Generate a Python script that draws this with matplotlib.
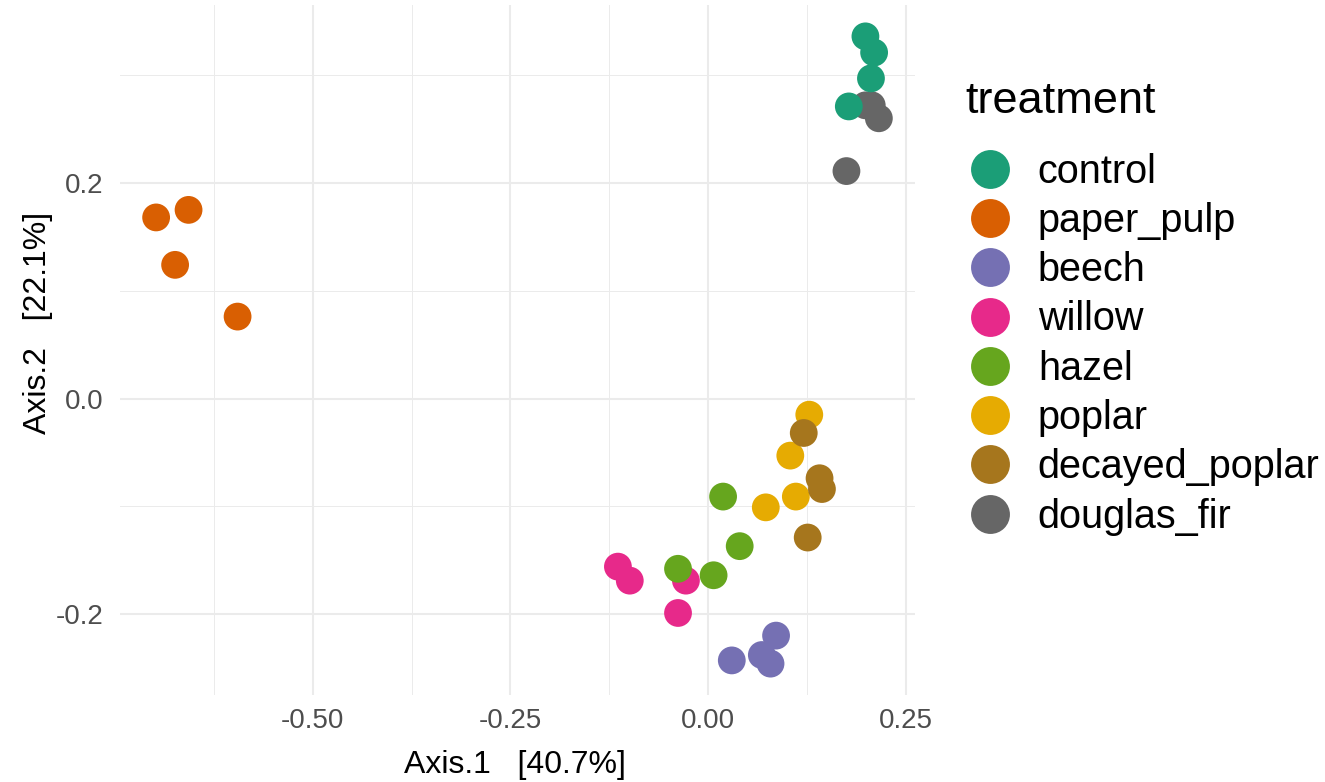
#!/usr/bin/env python3
"""
PCoA ordination plot of samples coloured by treatment.
"""

import matplotlib
matplotlib.use('Agg')
import matplotlib.pyplot as plt
from matplotlib.lines import Line2D
from matplotlib.ticker import MultipleLocator


# Treatments in legend order with Dark2 colours
TREATMENTS = ['control', 'paper_pulp', 'beech', 'willow', 'hazel',
              'poplar', 'decayed_poplar', 'douglas_fir']
COLORS = ['#1B9E77', '#D95F02', '#7570B3', '#E7298A', '#66A61E',
          '#E6AB02', '#A6761D', '#666666']

# Sample coordinates on the first two axes
AXIS1 = {
    'control': [0.199, 0.210, 0.206, 0.178],
    'paper_pulp': [-0.698, -0.657, -0.674, -0.595],
    'beech': [0.086, 0.030, 0.068, 0.079],
    'willow': [-0.114, -0.099, -0.028, -0.038],
    'hazel': [0.019, 0.040, 0.007, -0.038],
    'poplar': [0.128, 0.104, 0.073, 0.111],
    'decayed_poplar': [0.121, 0.141, 0.144, 0.126],
    'douglas_fir': [0.199, 0.207, 0.216, 0.175],
}
AXIS2 = {
    'control': [0.336, 0.321, 0.297, 0.271],
    'paper_pulp': [0.168, 0.175, 0.124, 0.076],
    'beech': [-0.220, -0.243, -0.238, -0.246],
    'willow': [-0.156, -0.169, -0.169, -0.199],
    'hazel': [-0.091, -0.137, -0.164, -0.158],
    'poplar': [-0.015, -0.053, -0.101, -0.091],
    'decayed_poplar': [-0.032, -0.074, -0.084, -0.129],
    'douglas_fir': [0.272, 0.272, 0.260, 0.211],
}

# Drawing order of the groups (later groups sit on top)
DRAW_ORDER = ['douglas_fir', 'paper_pulp', 'willow', 'hazel', 'beech',
              'poplar', 'decayed_poplar', 'control']

XLABEL = 'Axis.1   [40.7%]'
YLABEL = 'Axis.2   [22.1%]'

GRID = '#EBEBEB'
TICK_COLOR = '#4D4D4D'


def main():
    plt.rcParams['font.family'] = ['Liberation Sans', 'DejaVu Sans']
    plt.rcParams['axes.unicode_minus'] = False

    fig = plt.figure(figsize=(13.25, 7.82), dpi=100)
    fig.patch.set_facecolor('white')
    ax = fig.add_axes([120 / 1325, 1 - 695 / 782, 795 / 1325, 690 / 782])

    color_of = dict(zip(TREATMENTS, COLORS))
    for name in DRAW_ORDER:
        ax.scatter(AXIS1[name], AXIS2[name], s=400, color=color_of[name],
                   edgecolors='none', zorder=3)

    # Range padded by 5% like ggplot
    xs = [v for vals in AXIS1.values() for v in vals]
    ys = [v for vals in AXIS2.values() for v in vals]
    xr = max(xs) - min(xs)
    yr = max(ys) - min(ys)
    ax.set_xlim(min(xs) - 0.05 * xr, max(xs) + 0.05 * xr)
    ax.set_ylim(min(ys) - 0.05 * yr, max(ys) + 0.05 * yr)

    # theme_minimal look: grid only, no frame or tick marks
    ax.xaxis.set_major_locator(MultipleLocator(0.25))
    ax.xaxis.set_minor_locator(MultipleLocator(0.125))
    ax.yaxis.set_major_locator(MultipleLocator(0.2))
    ax.yaxis.set_minor_locator(MultipleLocator(0.1))
    ax.xaxis.set_major_formatter(lambda v, p: f'{v:.2f}')
    ax.yaxis.set_major_formatter(lambda v, p: f'{v:.1f}')
    ax.grid(which='major', color=GRID, linewidth=1.5)
    ax.grid(which='minor', color=GRID, linewidth=0.7)
    ax.set_axisbelow(True)
    for side in ax.spines.values():
        side.set_visible(False)
    ax.tick_params(which='both', length=0)
    ax.tick_params(axis='x', labelsize=20, labelcolor=TICK_COLOR, pad=9)
    ax.tick_params(axis='y', labelsize=20, labelcolor=TICK_COLOR, pad=12)

    ax.set_xlabel(XLABEL, fontsize=23)
    ax.set_ylabel(YLABEL, fontsize=23)
    ax.xaxis.label.set_va('center')
    ax.yaxis.label.set_va('center')
    ax.xaxis.set_label_coords(0.497, -(765 - 695) / 690)
    ax.yaxis.set_label_coords(-(120 - 38) / 795, (695 - 323) / 690)

    # Legend
    handles = [Line2D([], [], marker='o', linestyle='none', markersize=28,
                      markerfacecolor=c, markeredgecolor='none')
               for c in COLORS]
    leg = fig.legend(handles, TREATMENTS, title='treatment',
                     loc='upper left', bbox_to_anchor=(965 / 1325, 1 - 81 / 782),
                     frameon=False, fontsize=28.5, title_fontsize=32.5,
                     alignment='left', borderpad=0, borderaxespad=0,
                     handlelength=1.26, handletextpad=0.58, labelspacing=0.285)
    leg._legend_box.sep = 22

    fig.savefig('out.png', dpi=100, facecolor='white')
    plt.close(fig)


if __name__ == '__main__':
    main()
